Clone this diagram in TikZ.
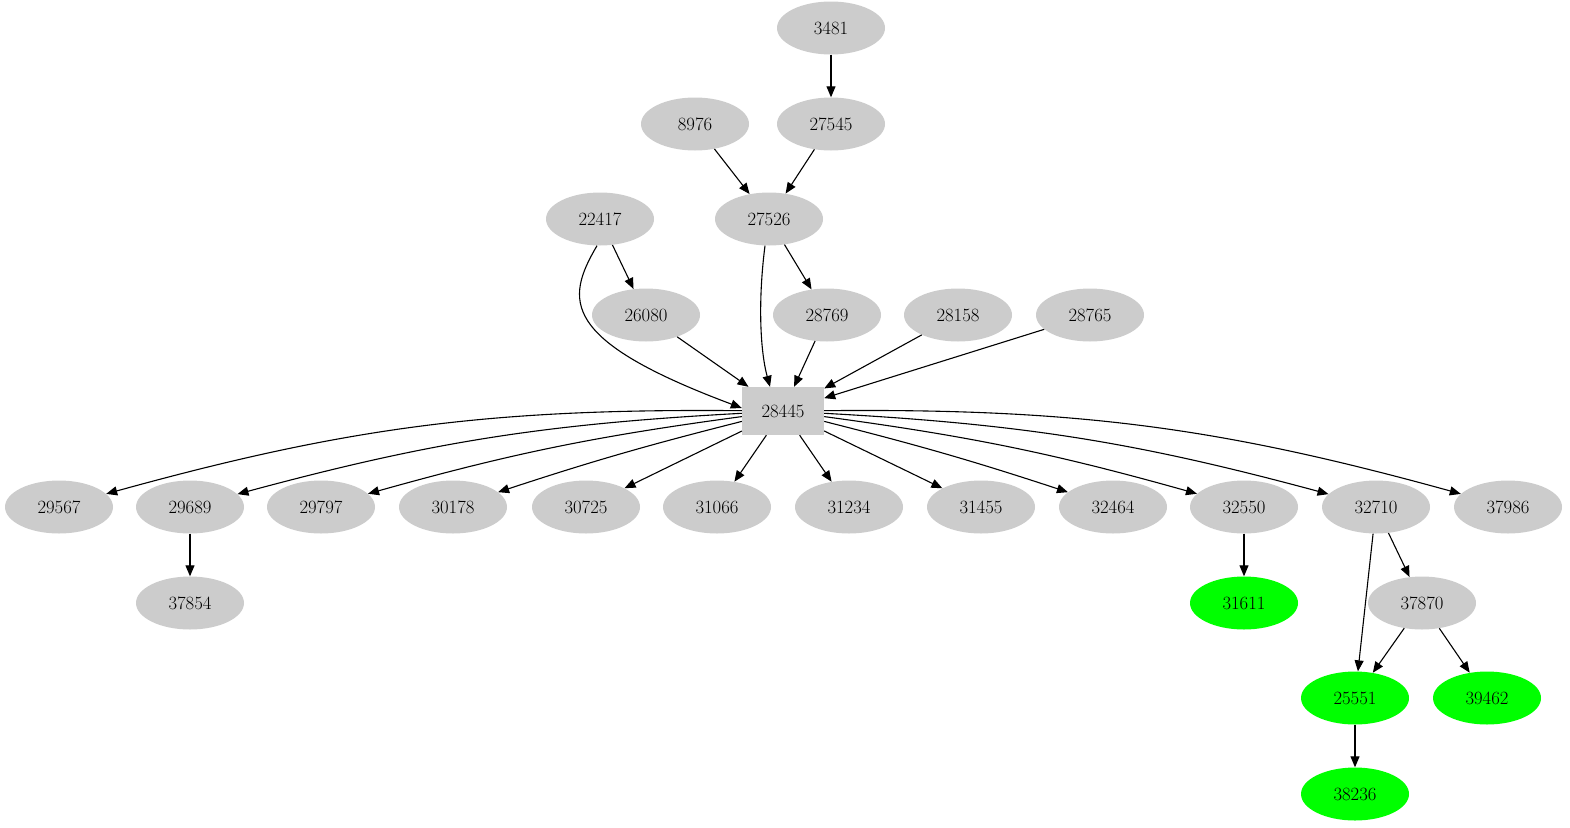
\documentclass[tikz,border=0pt]{standalone}
\usetikzlibrary{arrows.meta,shapes.geometric}
\begin{document}
\begin{tikzpicture}[x=1pt,y=-1pt,
  nd/.style={ellipse,fill=lightgray!80!white,minimum width=108pt,minimum height=53pt,inner sep=0pt,font=\fontsize{18.7}{22}\selectfont},
  gn/.style={nd,fill=green},
  bx/.style={rectangle,fill=lightgray!80!white,minimum width=82pt,minimum height=48pt,inner sep=0pt,font=\fontsize{18.7}{22}\selectfont},
  e/.style={-{Triangle[length=11pt,width=9pt]},line width=1.1pt}]
\useasboundingbox (0,0) rectangle (1570,827);
\node[nd] (n3481) at (831,28) {3481};
\node[nd] (n27545) at (831,124) {27545};
\node[nd] (n8976) at (695,124) {8976};
\node[nd] (n22417) at (600,219) {22417};
\node[nd] (n27526) at (769,219) {27526};
\node[nd] (n26080) at (646,315) {26080};
\node[nd] (n28769) at (827,315) {28769};
\node[nd] (n28158) at (958,315) {28158};
\node[nd] (n28765) at (1090,315) {28765};
\node[bx] (h) at (783,411) {28445};
\node[nd] (n29567) at (59,507) {29567};
\node[nd] (n29689) at (190,507) {29689};
\node[nd] (n29797) at (321,507) {29797};
\node[nd] (n30178) at (453,507) {30178};
\node[nd] (n30725) at (586,507) {30725};
\node[nd] (n31066) at (717,507) {31066};
\node[nd] (n31234) at (849,507) {31234};
\node[nd] (n31455) at (981,507) {31455};
\node[nd] (n32464) at (1113,507) {32464};
\node[nd] (n32550) at (1244,507) {32550};
\node[nd] (n32710) at (1376,507) {32710};
\node[nd] (n37986) at (1508,507) {37986};
\node[nd] (n37854) at (190,603) {37854};
\node[gn] (n31611) at (1244,603) {31611};
\node[nd] (n37870) at (1422,603) {37870};
\node[gn] (n25551) at (1355,698) {25551};
\node[gn] (n39462) at (1487,698) {39462};
\node[gn] (n38236) at (1355,794) {38236};
\draw[e] (n3481) -- (n27545);
\draw[e] (n8976) -- (n27526);
\draw[e] (n27545) -- (n27526);
\draw[e] (n22417) -- (n26080);
\draw[e] (n27526) -- (n28769);
\draw[e] ([xshift=-3pt]n22417.south) .. controls (565,300) and (560,340) .. ([yshift=3pt]h.west);
\draw[e] ([xshift=-4pt]n27526.south) .. controls (758,300) and (760,350) .. ([xshift=-13pt]h.north);
\draw[e] (n26080) -- (h);
\draw[e] (n28769) -- (h);
\draw[e] (n28158) -- (h);
\draw[e] (n28765) -- (h);
\draw[e] (h) to[bend right=8] (n29567);
\draw[e] (h) to[bend right=6] (n29689);
\draw[e] (h) to[bend right=4] (n29797);
\draw[e] (h) to[bend right=2] (n30178);
\draw[e] (h) -- (n30725);
\draw[e] (h) -- (n31066);
\draw[e] (h) -- (n31234);
\draw[e] (h) -- (n31455);
\draw[e] (h) to[bend left=2] (n32464);
\draw[e] (h) to[bend left=4] (n32550);
\draw[e] (h) to[bend left=6] (n32710);
\draw[e] (h) to[bend left=8] (n37986);
\draw[e] (n29689) -- (n37854);
\draw[e] (n32550) -- (n31611);
\draw[e] (n32710) -- (n37870);
\draw[e] (n32710) -- (n25551);
\draw[e] (n37870) -- (n25551);
\draw[e] (n37870) -- (n39462);
\draw[e] (n25551) -- (n38236);
\end{tikzpicture}
\end{document}
